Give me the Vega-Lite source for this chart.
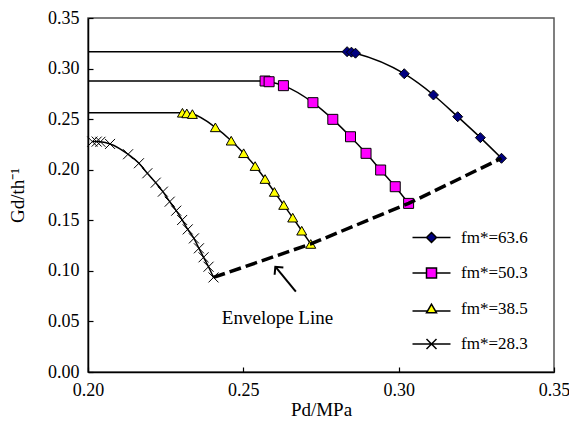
{
  "$schema": "https://vega.github.io/schema/vega-lite/v6.json",
  "width": 466,
  "height": 354,
  "autosize": "none",
  "padding": {"left": 88, "top": 18, "right": 15, "bottom": 57},
  "background": "white",
  "config": {
    "view": {"stroke": "#555555", "strokeWidth": 1.5},
    "font": "Liberation Serif",
    "axis": {
      "grid": false,
      "domainColor": "black",
      "domainWidth": 1.5,
      "tickColor": "black",
      "tickWidth": 1.2,
      "tickSize": -5,
      "labelPadding": 14,
      "labelFont": "Liberation Serif",
      "labelFontSize": 18,
      "labelColor": "black",
      "titleFont": "Liberation Serif",
      "titleFontSize": 19,
      "titleFontWeight": "normal",
      "titleColor": "black",
      "labelFlush": false,
      "labelOverlap": false
    }
  },
  "datasets": {
    "curves": [
      {"fm": "fm*=63.6", "x": 0.2000, "y": 0.3167},
      {"fm": "fm*=63.6", "x": 0.2834, "y": 0.3167},
      {"fm": "fm*=63.6", "x": 0.2848, "y": 0.3162},
      {"fm": "fm*=63.6", "x": 0.2861, "y": 0.3152},
      {"fm": "fm*=63.6", "x": 0.3018, "y": 0.2949},
      {"fm": "fm*=63.6", "x": 0.3112, "y": 0.2739},
      {"fm": "fm*=63.6", "x": 0.3190, "y": 0.2524},
      {"fm": "fm*=63.6", "x": 0.3263, "y": 0.2317},
      {"fm": "fm*=63.6", "x": 0.3331, "y": 0.2113},
      {"fm": "fm*=50.3", "x": 0.2000, "y": 0.2877},
      {"fm": "fm*=50.3", "x": 0.2570, "y": 0.2877},
      {"fm": "fm*=50.3", "x": 0.2583, "y": 0.2870},
      {"fm": "fm*=50.3", "x": 0.2629, "y": 0.2831},
      {"fm": "fm*=50.3", "x": 0.2724, "y": 0.2663},
      {"fm": "fm*=50.3", "x": 0.2788, "y": 0.2498},
      {"fm": "fm*=50.3", "x": 0.2845, "y": 0.2326},
      {"fm": "fm*=50.3", "x": 0.2895, "y": 0.2162},
      {"fm": "fm*=50.3", "x": 0.2942, "y": 0.1997},
      {"fm": "fm*=50.3", "x": 0.2989, "y": 0.1832},
      {"fm": "fm*=50.3", "x": 0.3032, "y": 0.1667},
      {"fm": "fm*=38.5", "x": 0.2000, "y": 0.2563},
      {"fm": "fm*=38.5", "x": 0.2304, "y": 0.2563},
      {"fm": "fm*=38.5", "x": 0.2318, "y": 0.2557},
      {"fm": "fm*=38.5", "x": 0.2336, "y": 0.2550},
      {"fm": "fm*=38.5", "x": 0.2410, "y": 0.2419},
      {"fm": "fm*=38.5", "x": 0.2461, "y": 0.2287},
      {"fm": "fm*=38.5", "x": 0.2501, "y": 0.2163},
      {"fm": "fm*=38.5", "x": 0.2538, "y": 0.2036},
      {"fm": "fm*=38.5", "x": 0.2570, "y": 0.1908},
      {"fm": "fm*=38.5", "x": 0.2600, "y": 0.1780},
      {"fm": "fm*=38.5", "x": 0.2630, "y": 0.1651},
      {"fm": "fm*=38.5", "x": 0.2659, "y": 0.1526},
      {"fm": "fm*=38.5", "x": 0.2688, "y": 0.1397},
      {"fm": "fm*=38.5", "x": 0.2717, "y": 0.1266},
      {"fm": "fm*=28.3", "x": 0.2014, "y": 0.2278},
      {"fm": "fm*=28.3", "x": 0.2028, "y": 0.2278},
      {"fm": "fm*=28.3", "x": 0.2040, "y": 0.2276},
      {"fm": "fm*=28.3", "x": 0.2071, "y": 0.2255},
      {"fm": "fm*=28.3", "x": 0.2129, "y": 0.2153},
      {"fm": "fm*=28.3", "x": 0.2164, "y": 0.2064},
      {"fm": "fm*=28.3", "x": 0.2191, "y": 0.1965},
      {"fm": "fm*=28.3", "x": 0.2218, "y": 0.1872},
      {"fm": "fm*=28.3", "x": 0.2241, "y": 0.1783},
      {"fm": "fm*=28.3", "x": 0.2263, "y": 0.1684},
      {"fm": "fm*=28.3", "x": 0.2284, "y": 0.1595},
      {"fm": "fm*=28.3", "x": 0.2303, "y": 0.1503},
      {"fm": "fm*=28.3", "x": 0.2321, "y": 0.1410},
      {"fm": "fm*=28.3", "x": 0.2341, "y": 0.1321},
      {"fm": "fm*=28.3", "x": 0.2357, "y": 0.1223},
      {"fm": "fm*=28.3", "x": 0.2372, "y": 0.1134},
      {"fm": "fm*=28.3", "x": 0.2388, "y": 0.1041},
      {"fm": "fm*=28.3", "x": 0.2404, "y": 0.0935}
    ],
    "envelope": [
      {"x": 0.2404, "y": 0.0935},
      {"x": 0.2717, "y": 0.1266},
      {"x": 0.3032, "y": 0.1667},
      {"x": 0.3331, "y": 0.2113}
    ],
    "arrow": [
      {"x": 0.2669, "y": 0.0794, "x2": 0.2603, "y2": 0.1041}
    ],
    "label": [
      {"x": 0.2610, "y": 0.0537, "text": "Envelope Line"}
    ]
  },
  "layer": [
    {
      "data": {"name": "curves"},
      "mark": {"type": "line", "color": "black", "strokeWidth": 1.5, "interpolate": "monotone"},
      "encoding": {
        "x": {"field": "x", "type": "quantitative", "scale": {"domain": [0.2, 0.35], "nice": false, "zero": false},
              "axis": {"values": [0.2, 0.25, 0.3, 0.35], "format": ".2f", "title": "Pd/MPa", "titlePadding": 1}},
        "y": {"field": "y", "type": "quantitative", "scale": {"domain": [0, 0.35], "nice": false, "zero": false},
              "axis": {"values": [0, 0.05, 0.1, 0.15, 0.2, 0.25, 0.3, 0.35], "format": ".2f", "title": "Gd/th⁻¹", "titlePadding": 20}},
        "detail": {"field": "fm", "type": "nominal"}
      }
    },
    {
      "data": {"name": "curves"},
      "transform": [{"filter": "datum.x > 0.2001"}],
      "mark": {"type": "point", "filled": true, "size": 100, "stroke": "black", "strokeWidth": 1, "opacity": 1},
      "encoding": {
        "x": {"field": "x", "type": "quantitative"},
        "y": {"field": "y", "type": "quantitative"},
        "shape": {
          "condition": [
            {"test": "datum.fm === 'fm*=63.6'", "value": "diamond"},
            {"test": "datum.fm === 'fm*=50.3'", "value": "square"},
            {"test": "datum.fm === 'fm*=38.5'", "value": "triangle-up"}
          ],
          "value": "M-1,-1L1,1M-1,1L1,-1"
        },
        "fill": {
          "condition": [
            {"test": "datum.fm === 'fm*=63.6'", "value": "#000080"},
            {"test": "datum.fm === 'fm*=50.3'", "value": "#FF00FF"},
            {"test": "datum.fm === 'fm*=38.5'", "value": "#FFFF00"}
          ],
          "value": "transparent"
        }
      }
    },
    {
      "data": {"name": "curves"},
      "transform": [{"filter": "datum.x < 0"}],
      "mark": {"type": "point", "filled": true, "size": 100, "strokeWidth": 1.3, "opacity": 1},
      "encoding": {
        "x": {"field": "x", "type": "quantitative"},
        "y": {"field": "y", "type": "quantitative"},
        "shape": {
          "field": "fm", "type": "nominal",
          "scale": {
            "domain": ["fm*=63.6", "fm*=50.3", "fm*=38.5", "fm*=28.3"],
            "range": [
              "M-3.8,0L-1,0M1,0L3.8,0M0,-1L1,0L0,1L-1,0Z",
              "M-3.8,0L-1,0M1,0L3.8,0M-1,-1L1,-1L1,1L-1,1Z",
              "M-3.8,0.5L-0.7,0.5M0.7,0.5L3.8,0.5M0,-0.866L-1,0.866L1,0.866Z",
              "M-3.8,0L3.8,0M-1,-1L1,1M-1,1L1,-1"
            ]
          },
          "legend": {
            "orient": "none", "legendX": 335, "legendY": 211, "title": null,
            "padding": 0, "rowPadding": 17.5, "labelOffset": 21,
            "labelFont": "Liberation Serif", "labelFontSize": 17, "labelColor": "black"
          }
        },
        "fill": {
          "field": "fm", "type": "nominal",
          "scale": {
            "domain": ["fm*=63.6", "fm*=50.3", "fm*=38.5", "fm*=28.3"],
            "range": ["#000080", "#FF00FF", "#FFFF00", "transparent"]
          },
          "legend": {
            "orient": "none", "legendX": 335, "legendY": 211, "title": null,
            "padding": 0, "rowPadding": 17.5, "labelOffset": 21,
            "labelFont": "Liberation Serif", "labelFontSize": 17, "labelColor": "black"
          }
        },
        "stroke": {
          "field": "fm", "type": "nominal",
          "scale": {
            "domain": ["fm*=63.6", "fm*=50.3", "fm*=38.5", "fm*=28.3"],
            "range": ["black", "black", "black", "black"]
          },
          "legend": {
            "orient": "none", "legendX": 335, "legendY": 211, "title": null,
            "padding": 0, "rowPadding": 17.5, "labelOffset": 21,
            "labelFont": "Liberation Serif", "labelFontSize": 17, "labelColor": "black"
          }
        }
      }
    },
    {
      "data": {"name": "envelope"},
      "mark": {"type": "line", "color": "black", "strokeWidth": 3.5, "strokeDash": [12, 5]},
      "encoding": {
        "x": {"field": "x", "type": "quantitative"},
        "y": {"field": "y", "type": "quantitative"}
      }
    },
    {
      "data": {"name": "arrow"},
      "mark": {"type": "rule", "color": "black", "strokeWidth": 2},
      "encoding": {
        "x": {"field": "x", "type": "quantitative"},
        "y": {"field": "y", "type": "quantitative"},
        "x2": {"field": "x2"},
        "y2": {"field": "y2"}
      }
    },
    {
      "data": {"name": "arrow"},
      "mark": {"type": "point", "shape": "M-1,1L0,0L1,1", "filled": false, "stroke": "black", "strokeWidth": 2, "size": 130, "angle": 320, "opacity": 1},
      "encoding": {
        "x": {"field": "x2", "type": "quantitative"},
        "y": {"field": "y2", "type": "quantitative"}
      }
    },
    {
      "data": {"name": "label"},
      "mark": {"type": "text", "font": "Liberation Serif", "fontSize": 19, "color": "black", "align": "center", "baseline": "middle"},
      "encoding": {
        "x": {"field": "x", "type": "quantitative"},
        "y": {"field": "y", "type": "quantitative"},
        "text": {"field": "text"}
      }
    }
  ]
}
